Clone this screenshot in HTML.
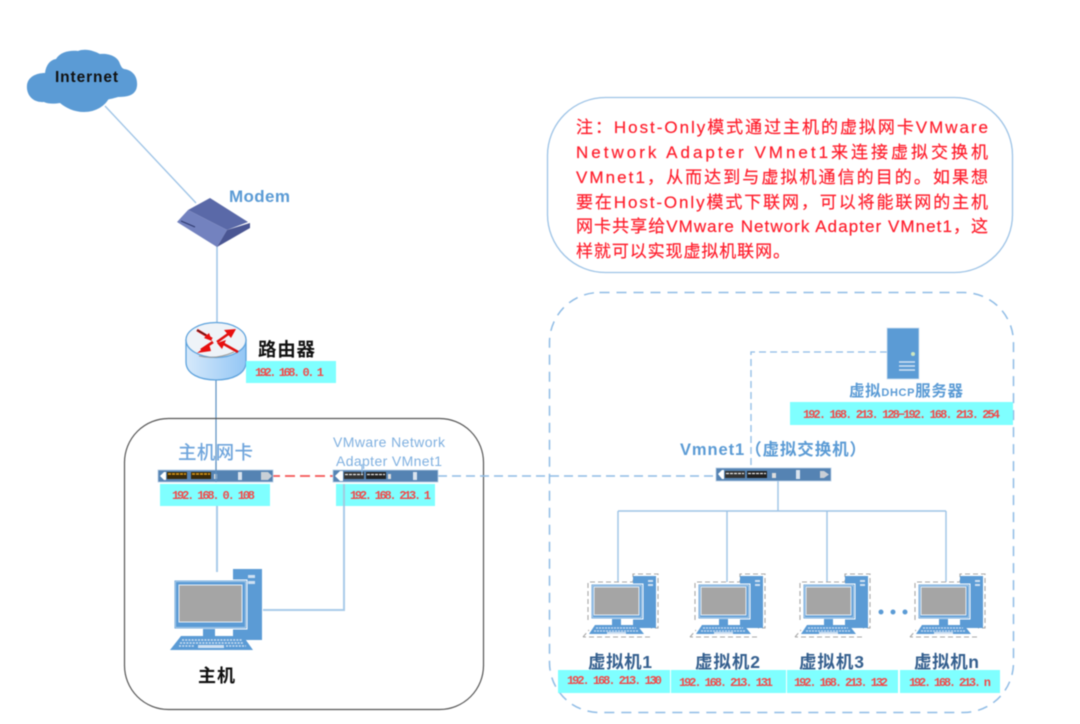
<!DOCTYPE html>
<html><head><meta charset="utf-8"><title>Host-Only</title>
<style>
html,body{margin:0;padding:0;background:#fff;width:1080px;height:724px;overflow:hidden}
svg{display:block;filter:blur(.6px)}
text{font-family:"Liberation Sans","Noto Sans CJK SC",sans-serif}
.ip{font-family:"Liberation Mono","Noto Sans CJK SC",monospace;font-size:12px;fill:#f24a4a;font-weight:bold}
.note{font-size:17px;fill:#ff1f2d;stroke:#ff1f2d;stroke-width:.2px}
.blue{fill:#5b9bd5;font-weight:bold}
.vm{font-size:17.5px;font-weight:bold;fill:#35608f}
</style></head><body>
<svg width="1080" height="724" viewBox="0 0 1080 724" xmlns="http://www.w3.org/2000/svg">
<defs>
<linearGradient id="rg" x1="0" x2="1" y1="0" y2="0"><stop offset="0" stop-color="#d6e9fb"/><stop offset="1" stop-color="#93c6f5"/></linearGradient>
<g id="pc">
 <rect x="59" y="0" width="29" height="71" fill="#5b9bd5"/>
 <rect x="74" y="6" width="7" height="3" fill="#cfe0f2"/><rect x="74" y="12" width="7" height="3" fill="#cfe0f2"/>
 <rect x="0" y="11" width="73" height="49" fill="#5b9bd5" stroke="#fff" stroke-width="1"/>
 <rect x="1.500" y="12.500" width="70" height="46" fill="none" stroke="#a9cbe9" stroke-width="1"/>
 <rect x="5" y="16" width="63" height="37" fill="#a5a5a5" stroke="#e5edf5" stroke-width="1"/>
 <rect x="29" y="60" width="12" height="7" fill="#5b9bd5"/>
 <path d="M7 67H69L79 81H-4Z" fill="#5b9bd5"/>
 <path d="M8 71H68M6 74H70M5 77H20M52 77H72" stroke="#cfe0f2" stroke-width="1.500" stroke-dasharray="2 1.200"/>
 <rect x="24" y="76" width="26" height="3" fill="#cfe0f2"/>
</g>
<g id="vm">
 <path d="M0 63L8 55V46H5V8H50V0H75V54H68L67 63Z" fill="#fff"/>
 <path d="M0 63L6 56M5 46V8H50V0H75V54H68M67 63H0" fill="none" stroke="#a8a8a8" stroke-width="1.100" stroke-dasharray="5 3"/>
 <rect x="50" y="2" width="23" height="52" fill="#5b9bd5"/>
 <rect x="65" y="6" width="5" height="2" fill="#cfe0f2"/><rect x="65" y="10" width="5" height="2" fill="#cfe0f2"/>
 <rect x="8" y="10" width="52" height="35" fill="#5b9bd5" stroke="#fff"/>
 <rect x="9.500" y="11.500" width="49" height="32" fill="none" stroke="#a9cbe9"/>
 <rect x="11" y="13" width="45" height="28" fill="#a5a5a5" stroke="#e5edf5"/>
 <rect x="29" y="45" width="9" height="6" fill="#5b9bd5"/>
 <path d="M12 51H54L61 60H6Z" fill="#5b9bd5"/>
 <path d="M13 54H53M11 57H56" stroke="#cfe0f2" stroke-width="1.300" stroke-dasharray="2 1"/>
 <rect x="24" y="58" width="19" height="2" fill="#cfe0f2"/>
</g>
</defs>
<rect width="1080" height="724" fill="#fff"/>

<!-- cloud -->
<path d="M45 73C46 65 50 60 56 59C60 52 70 50 78 51C86 48 94 51 100 54C108 53 118 56 120 64C122 68 122 68 124 69C132 70 138 76 137 86C136 95 128 97 118 97C112 99 108 99 108 100C104 106 96 112 84 112C74 112 66 108 60 103C54 104 48 104 44 102C32 103 26 94 27 85C28 77 36 73 45 73Z" fill="#5b9bd5"/>
<text x="55" y="82" font-size="15.500" font-weight="bold" fill="#111" textLength="63">Internet</text>

<!-- top connectors -->
<path d="M105 106L196 203" stroke="#9dc3e6" stroke-width="1.300" fill="none"/>
<path d="M217 246V323" stroke="#9dc3e6" stroke-width="1.500" fill="none"/>
<path d="M216 380V470" stroke="#5b8fc0" stroke-width="1.200" fill="none"/>
<path d="M217 484V572" stroke="#a9cbe9" stroke-width="2" fill="none"/>

<!-- modem -->
<path d="M210 198L248 222L227 230L188 210Z" fill="#5a69a8"/>
<path d="M177 222L188 210L227 230L217 247Z" fill="#7382bf"/>
<path d="M227 230L250 223V228L217 247Z" fill="#4a5693"/>
<path d="M181 221L195 227" stroke="#2f3a70" stroke-width="1.200"/>
<text x="229" y="202" font-size="17" class="blue" textLength="61">Modem</text>

<!-- router -->
<path d="M186 340V362C186 374 200 380 216 380C232 380 246 374 246 362V340Z" fill="url(#rg)" stroke="#5ea3dd" stroke-width="1.300"/>
<ellipse cx="216" cy="340" rx="30" ry="17.500" fill="#eef3f8" stroke="#5ea3dd" stroke-width="1.300"/>
<path d="M197 330L212 339M217 342L231 332M213 342L201 350M238 352L222 343" stroke="#e01010" stroke-width="2.600" fill="none"/>
<path d="M236 329L224 330L231 338Z M197 353L209 344L211 351Z M212 341L204 338L209 333Z M217 343L226 340L222 349Z" fill="#e80f0f"/>
<path d="M197 330L206 335" stroke="#222" stroke-width="1"/>
<path d="M199 356Q216 360 234 352" stroke="#9a9a9a" stroke-width="1" fill="none"/>
<text x="258" y="356" font-size="18.500" font-weight="bold" fill="#111" textLength="57">路由器</text>
<rect x="246" y="361" width="90" height="22" fill="#7fffff"/>
<text x="255" y="376" class="ip" textLength="69">192. 168. 0. 1</text>

<!-- host box -->
<rect x="124.500" y="418.500" width="359" height="291" rx="44" fill="none" stroke="#555" stroke-width="1.200"/>
<text x="178" y="459" font-size="18.500" fill="#6fa5dc" font-weight="500" textLength="75">主机网卡</text>
<text x="333" y="447" font-size="14" fill="#7fb0e0" textLength="112">VMware Network</text>
<text x="336" y="466" font-size="14" fill="#7fb0e0" textLength="106">Adapter VMnet1</text>

<!-- cables in host -->
<path d="M344 484V610H263" stroke="#a9cbe9" stroke-width="2" fill="none"/>
<path d="M270 476H333" stroke="#f45555" stroke-width="1.800" stroke-dasharray="10 5" fill="none"/>
<path d="M438 476H716" stroke="#8fbce6" stroke-width="1.500" stroke-dasharray="9 5" fill="none"/>

<!-- switches -->
<g>
 <rect x="158" y="470" width="115" height="12" fill="#5583b3" stroke="#b7cfe8" stroke-width=".8"/>
 <path d="M160 476L164 472H166V480H164Z" fill="#fff"/>
 <rect x="167" y="472" width="20" height="7" fill="#3a2a08"/><rect x="191" y="472" width="20" height="7" fill="#3a2a08"/>
 <path d="M168 474H186M192 474H210" stroke="#e8a21a" stroke-width="1.500" stroke-dasharray="3 1"/>
 <rect x="214" y="474" width="3" height="5" fill="#ddd"/><rect x="238" y="472" width="4" height="8" fill="#d9e3ee"/>
 <path d="M261 472H268L272 476L268 480H261Z" fill="#c9cfd6"/>
</g>
<g>
 <rect x="333" y="470" width="105" height="12" fill="#5583b3" stroke="#b7cfe8" stroke-width=".8"/>
 <path d="M335 476L340 471H343V481H340Z" fill="#fff"/>
 <rect x="344" y="472" width="20" height="7" fill="#333"/><rect x="366" y="472" width="20" height="7" fill="#222"/>
 <path d="M345 474.500H363M367 474.500H385" stroke="#eee" stroke-width="1.200" stroke-dasharray="3 1"/>
 <rect x="388" y="474" width="3" height="5" fill="#ddd"/><rect x="413" y="472" width="4" height="8" fill="#d9e3ee"/>
</g>
<g>
 <rect x="716" y="468" width="115" height="13" fill="#5583b3" stroke="#b7cfe8" stroke-width=".8"/>
 <path d="M718 474L722 470H724V479H722Z" fill="#fff"/>
 <rect x="725" y="471" width="20" height="7" fill="#333"/><rect x="747" y="471" width="20" height="7" fill="#222"/>
 <path d="M726 473.500H744M748 473.500H766" stroke="#eee" stroke-width="1.200" stroke-dasharray="3 1"/>
 <rect x="772" y="473" width="4" height="5" fill="#ddd"/><rect x="796" y="470" width="4" height="9" fill="#d9e3ee"/>
 <path d="M820 471H824L829 474.500L824 478H820Z" fill="#c9cfd6"/>
</g>
<path d="M216 462V482" stroke="#5b8fc0" stroke-width="1.200"/>
<path d="M362 464V474" stroke="#7fb0e0" stroke-width="1"/>

<rect x="160" y="484" width="110" height="22" fill="#7fffff"/>
<text x="172" y="499" class="ip" textLength="83">192. 168. 0. 108</text>
<rect x="336" y="484" width="99" height="22" fill="#7fffff"/>
<path d="M344 484V506" stroke="#a2cbe0" stroke-width="2"/>
<text x="350" y="499" class="ip" textLength="81">192. 168. 213. 1</text>

<use href="#pc" x="174" y="569"/>
<text x="198" y="682" font-size="18" font-weight="bold" fill="#111" textLength="37">主机</text>

<!-- note -->
<rect x="547.500" y="97.500" width="465" height="175" rx="58" fill="#fff" stroke="#9dc3e6" stroke-width="1.300"/>
<text class="note" x="576" y="133" textLength="412">注：Host-Only模式通过主机的虚拟网卡VMware</text>
<text class="note" x="576" y="158" textLength="412">Network Adapter VMnet1来连接虚拟交换机</text>
<text class="note" x="576" y="183" textLength="412">VMnet1，从而达到与虚拟机通信的目的。如果想</text>
<text class="note" x="576" y="208" textLength="412">要在Host-Only模式下联网，可以将能联网的主机</text>
<text class="note" x="576" y="232" textLength="412">网卡共享给VMware Network Adapter VMnet1，这</text>
<text class="note" x="576" y="257" textLength="214">样就可以实现虚拟机联网。</text>

<!-- virtual network box -->
<rect x="549.500" y="292.500" width="464" height="420" rx="50" fill="none" stroke="#8fbce6" stroke-width="1.500" stroke-dasharray="10 7"/>

<!-- server -->
<path d="M887 352H751V468" stroke="#8fbce6" stroke-width="1.300" stroke-dasharray="7 4" fill="none"/>
<rect x="887" y="328" width="32" height="51" fill="#5b9bd5" stroke="#cfe0f2" stroke-width=".8"/>
<circle cx="913" cy="354" r="2" fill="#cfe8c0"/>
<path d="M899 362H915M899 366H915M899 370H915" stroke="#d4e4f4" stroke-width="1.500"/>
<text x="849" y="396" font-size="15.500" class="blue" textLength="114">虚拟<tspan font-size="11">DHCP</tspan>服务器</text>
<rect x="790" y="402" width="223" height="23" fill="#7fffff"/>
<text x="803" y="418" class="ip" textLength="197">192. 168. 213. 128−192. 168. 213. 254</text>
<text x="680" y="455" font-size="16.500" class="blue" textLength="186">Vmnet1（虚拟交换机）</text>

<!-- tree -->
<path d="M778 481V511M618 511H946M618 511V582M727 511V582M827 511V582M946 511V582" stroke="#9dc3e6" stroke-width="1.400" fill="none"/>

<use href="#vm" x="583" y="574"/>
<use href="#vm" x="690" y="574"/>
<use href="#vm" x="795" y="574"/>
<use href="#vm" x="910" y="574"/>
<circle cx="881" cy="612" r="2.500" fill="#5b9bd5"/><circle cx="893" cy="612" r="2.500" fill="#5b9bd5"/><circle cx="905" cy="612" r="2.500" fill="#5b9bd5"/>

<text x="588" y="668" class="vm" textLength="64">虚拟机1</text>
<text x="695" y="668" class="vm" textLength="65">虚拟机2</text>
<text x="799" y="668" class="vm" textLength="65">虚拟机3</text>
<text x="914" y="668" class="vm" textLength="65">虚拟机n</text>

<rect x="558" y="670" width="112" height="23" fill="#7fffff"/>
<rect x="671" y="670" width="115" height="23" fill="#7fffff"/>
<rect x="787" y="670" width="111" height="23" fill="#7fffff"/>
<rect x="900" y="670" width="100" height="23" fill="#7fffff"/>
<text x="567" y="684" class="ip" textLength="95">192. 168. 213. 130</text>
<text x="679" y="686" class="ip" textLength="94">192. 168. 213. 131</text>
<text x="794" y="686" class="ip" textLength="94">192. 168. 213. 132</text>
<text x="909" y="686" class="ip" textLength="82">192. 168. 213. n</text>
</svg>
</body></html>
